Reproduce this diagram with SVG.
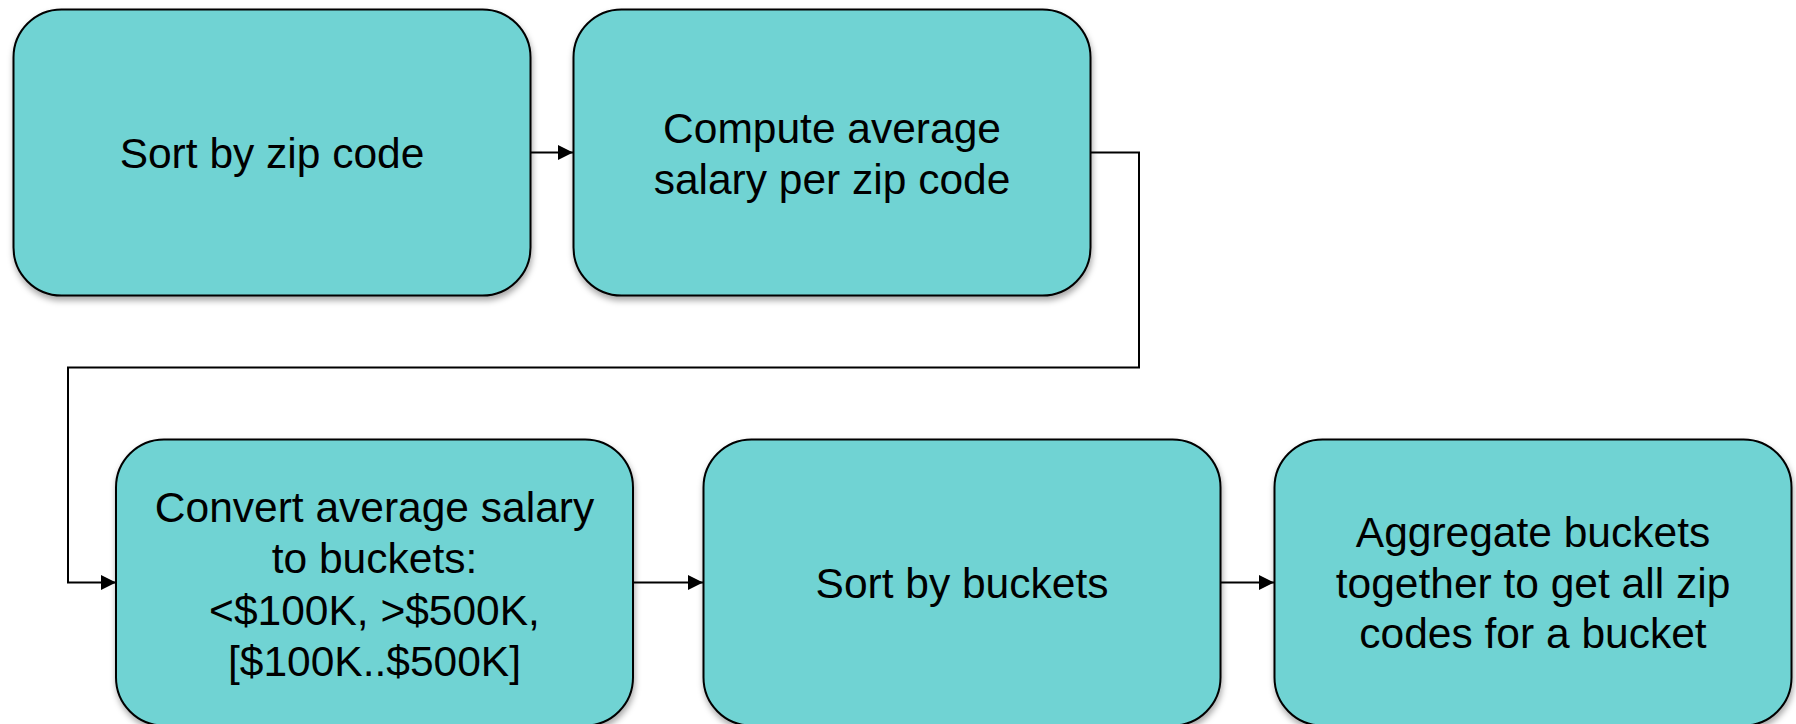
<svg xmlns="http://www.w3.org/2000/svg" width="1796" height="724" viewBox="0 0 1796 724">
  <style>
    .box { fill: #70D3D3; stroke: #000; stroke-width: 2; filter: url(#shadow); }
    .label { font-family: "Liberation Sans", Arial, sans-serif; font-size: 42.5px; fill: #000; text-anchor: middle; }
    .wire { fill: none; stroke: #000; stroke-width: 2; marker-end: url(#arrow); }
  </style>
  <defs>
    <filter id="shadow" x="-5%" y="-5%" width="110%" height="115%">
      <feDropShadow dx="1" dy="4" stdDeviation="3" flood-color="#000" flood-opacity="0.35"/>
    </filter>
    <marker id="arrow" viewBox="0 0 15 15" refX="15" refY="7.5" markerWidth="15" markerHeight="15" markerUnits="userSpaceOnUse" orient="auto">
      <path d="M0,0 L15,7.5 L0,15 Z" fill="#000"/>
    </marker>
  </defs>

  <rect width="1796" height="724" fill="#fff"/>

  <!-- connectors between the processing steps -->
  <g id="connectors">
    <path class="wire" d="M531,152.5 H573"/>
    <path class="wire" d="M1091,152.5 H1139 V367.5 H68 V582.5 H116"/>
    <path class="wire" d="M634,582.5 H703"/>
    <path class="wire" d="M1221,582.5 H1274"/>
  </g>

  <g id="sort-zip">
    <rect class="box" x="13.5" y="9.5" width="517" height="286" rx="48" ry="48"/>
    <text class="label" x="272" y="168">Sort by zip code</text>
  </g>

  <g id="avg-salary">
    <rect class="box" x="573.5" y="9.5" width="517" height="286" rx="48" ry="48"/>
    <text class="label" x="832" y="142.5">Compute average</text>
    <text class="label" x="832" y="193.5">salary per zip code</text>
  </g>

  <g id="to-buckets">
    <rect class="box" x="116" y="439.5" width="517" height="286" rx="48" ry="48"/>
    <text class="label" x="374.5" y="521.5">Convert average salary</text>
    <text class="label" x="374.5" y="573">to buckets:</text>
    <text class="label" x="374.5" y="624.7">&lt;$100K, &gt;$500K,</text>
    <text class="label" x="374.5" y="676.4">[$100K..$500K]</text>
  </g>

  <g id="sort-buckets">
    <rect class="box" x="703.5" y="439.5" width="517" height="286" rx="48" ry="48"/>
    <text class="label" x="962" y="598">Sort by buckets</text>
  </g>

  <g id="aggregate">
    <rect class="box" x="1274.5" y="439.5" width="517" height="286" rx="48" ry="48"/>
    <text class="label" x="1533" y="546.7">Aggregate buckets</text>
    <text class="label" x="1533" y="597.5">together to get all zip</text>
    <text class="label" x="1533" y="648.3">codes for a bucket</text>
  </g>
</svg>
